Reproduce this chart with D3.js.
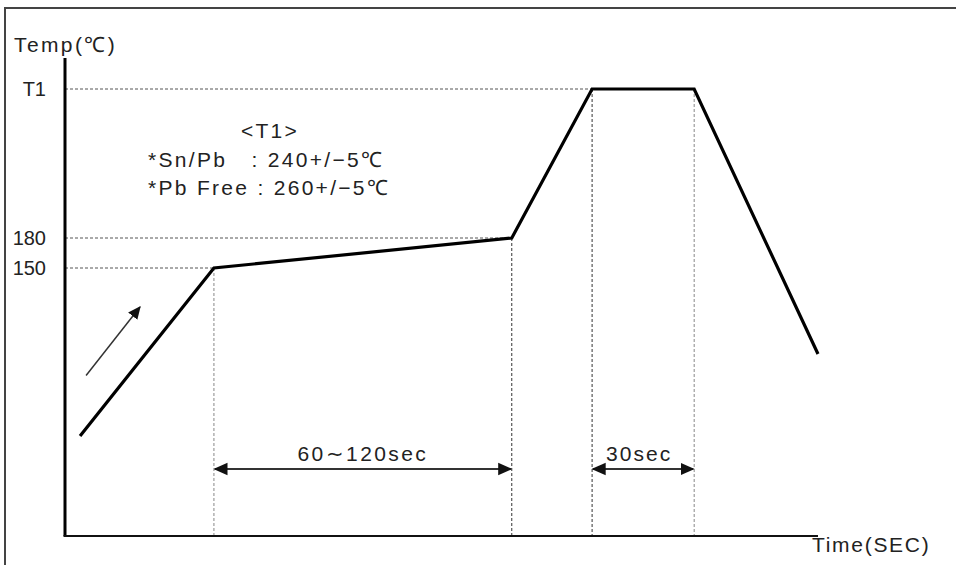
<!DOCTYPE html>
<html>
<head>
<meta charset="utf-8">
<script src="https://cdn.jsdelivr.net/npm/d3@7"></script>
<style>
  body { margin: 0; background: #fff; }
  svg { display: block; }
  text { font-family: "Liberation Sans", Arial, sans-serif; fill: #222; }
</style>
</head>
<body>
<div id="general"></div>
<script>
// schematic reflow profile: time in sec, temperature in °C (T1 drawn at 250)
const profileTime = [4.5, 44.5, 133.5, 157.5, 188, 225];
const profileTemp = [25, 150, 180, 250, 250, 86];

const tempTicks = [250, 180, 150];
const tempTickLabels = ["T1", "180", "150"];
const tickReachTime = [157.5, 133.5, 44.5];   // where each dashed level meets the curve

const guideTimes = [44.5, 133.5, 157.5, 188];
const guideTemps = [150, 180, 250, 250];

const spanFrom = [44.5, 157.5];
const spanTo = [133.5, 188];
const spanLabels = ["60∼120sec", "30sec"];

const noteLines = ["<T1>", "*Sn/Pb   : 240+/−5℃", "*Pb Free : 260+/−5℃"];
const trendArrow = [[6.3, 70], [22.4, 121]];

const w = 956, h = 565;
const m = { l: 65, r: 138, t: 58, b: 29 };
m.w = w - m.l - m.r;
m.h = h - m.t - m.b;

const svg = d3.select("#general").append("svg").attr("width", w).attr("height", h);

const defs = svg.append("defs");
const addHead = (id, size, color) => defs.append("marker")
    .attr("id", id)
    .attr("markerUnits", "userSpaceOnUse")
    .attr("viewBox", "0 -5 10 10")
    .attr("refX", 9).attr("refY", 0)
    .attr("markerWidth", size).attr("markerHeight", size)
    .attr("orient", "auto-start-reverse")
  .append("path").attr("d", "M0,-4.5L10,0L0,4.5Z").attr("fill", color);
addHead("head", 14, "#111");
addHead("headSmall", 13, "#111");

// outer frame (only top and left edges are in the picture)
svg.append("path")
  .attr("d", `M5,${h}V8H${w}`)
  .attr("fill", "none").attr("stroke", "#444").attr("stroke-width", 2);

const x = d3.scaleLinear().domain([0, 225]).range([m.l, m.l + m.w]);
// not to scale: piecewise so the labelled levels sit where the sketch puts them
const y = d3.scaleLinear().domain([25, 150, 180, 250]).range([436, 268, 238, 89]);

const g = svg.append("g");

// dashed level lines
g.append("g").selectAll("line")
  .data(tempTicks)
  .join("line")
    .attr("x1", m.l).attr("x2", (d, i) => x(tickReachTime[i]))
    .attr("y1", d => y(d)).attr("y2", d => y(d))
    .attr("stroke", "#555").attr("stroke-width", 1).attr("stroke-dasharray", "3,2");

// dashed verticals
g.append("g").selectAll("line")
  .data(guideTimes)
  .join("line")
    .attr("x1", d => x(d)).attr("x2", d => x(d))
    .attr("y1", (d, i) => y(guideTemps[i])).attr("y2", m.t + m.h)
    .attr("stroke", (d, i) => (i === 1 || i === 2) ? "#333" : "#888")
    .attr("stroke-width", 1).attr("stroke-dasharray", "3,2");

// axes
g.append("line").attr("x1", m.l).attr("x2", m.l).attr("y1", m.t).attr("y2", m.t + m.h)
  .attr("stroke", "#000").attr("stroke-width", 3);
g.append("line").attr("x1", m.l - 1.5).attr("x2", m.l + m.w).attr("y1", m.t + m.h).attr("y2", m.t + m.h)
  .attr("stroke", "#111").attr("stroke-width", 2);

const yAxis = g.append("g").attr("transform", `translate(${m.l},0)`)
  .call(d3.axisLeft(y).tickValues(tempTicks).tickSize(0).tickPadding(19)
    .tickFormat((d, i) => tempTickLabels[i]));
yAxis.select(".domain").remove();
yAxis.selectAll("text").attr("font-size", 20).style("font-family", null).attr("fill", "#222");

// profile
const line = d3.line().x(d => x(d[0])).y(d => y(d[1]));
g.append("path")
  .attr("d", line(d3.zip(profileTime, profileTemp)))
  .attr("fill", "none").attr("stroke", "#000").attr("stroke-width", 3.2)
  .attr("stroke-linejoin", "miter");

// rising arrow
g.append("path")
  .attr("d", line(trendArrow))
  .attr("stroke", "#333").attr("stroke-width", 1.5).attr("fill", "none")
  .attr("marker-end", "url(#headSmall)");

// duration spans
const spanY = m.t + m.h - 67;
g.append("g").selectAll("line")
  .data(spanLabels)
  .join("line")
    .attr("x1", (d, i) => x(spanFrom[i]) + 1).attr("x2", (d, i) => x(spanTo[i]) - 1)
    .attr("y1", spanY).attr("y2", spanY)
    .attr("stroke", "#333").attr("stroke-width", 2)
    .attr("marker-start", "url(#head)").attr("marker-end", "url(#head)");
g.append("g").selectAll("text")
  .data(spanLabels)
  .join("text")
    .attr("x", (d, i) => (x(spanFrom[i]) + x(spanTo[i])) / 2 - (i === 1 ? 4 : 0))
    .attr("y", spanY - 8)
    .attr("text-anchor", "middle")
    .attr("font-size", 21)
    .attr("letter-spacing", (d, i) => i === 0 ? 2.4 : 2)
    .text(d => d);

// T1 note
g.append("g").selectAll("text")
  .data(noteLines)
  .join("text")
    .attr("x", (d, i) => i === 0 ? 270 : 148)
    .attr("y", (d, i) => [138, 167, 195][i])
    .attr("text-anchor", (d, i) => i === 0 ? "middle" : "start")
    .attr("font-size", 21)
    .attr("letter-spacing", 2.3)
    .style("white-space", "pre")
    .text(d => d);

// axis titles
svg.append("text").attr("x", 14).attr("y", 52).attr("font-size", 21).attr("letter-spacing", 2.4).text("Temp(℃)");
svg.append("text").attr("x", 812).attr("y", 552).attr("font-size", 21).attr("letter-spacing", 1.7).text("Time(SEC)");
</script>
</body>
</html>
